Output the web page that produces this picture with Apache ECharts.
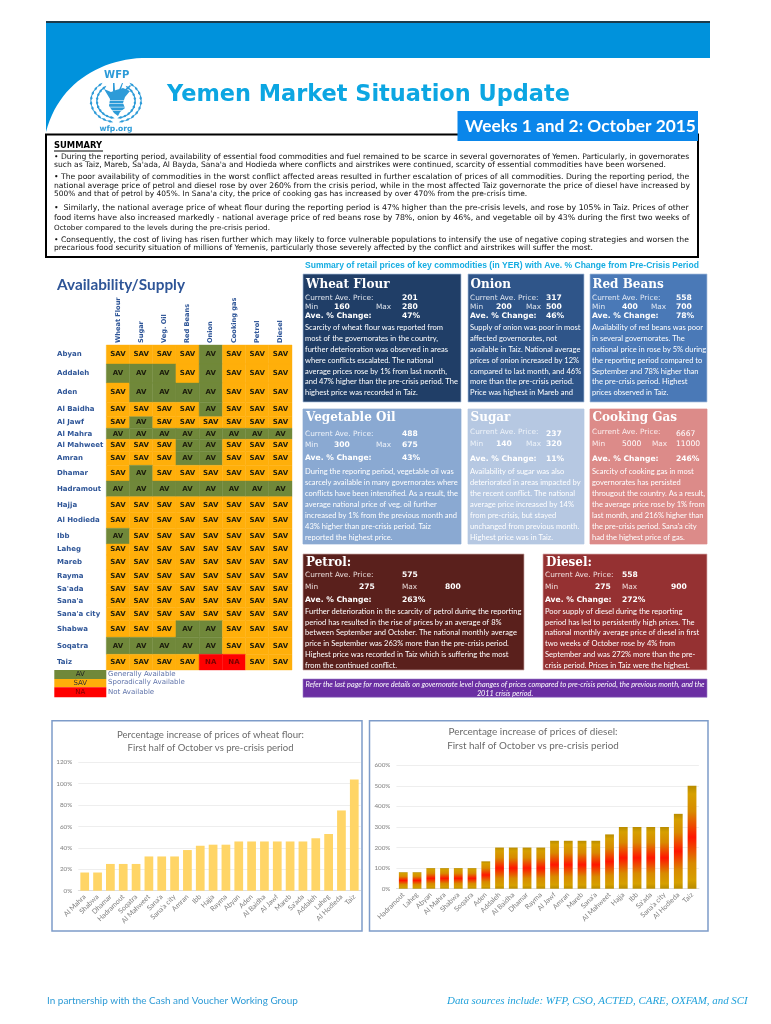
<!DOCTYPE html>
<html><head><meta charset="utf-8">
<style>html,body{margin:0;padding:0;background:#fff}#c{width:771px;height:1024px}</style>
<script src="https://cdn.jsdelivr.net/npm/echarts@6/dist/echarts.min.js"></script>
</head><body><div id="c"></div>
<script>
const commodities=["Wheat Flour","Sugar","Veg. Oil","Red Beans","Onion","Cooking gas","Petrol","Diesel"];
const governorates=["Abyan","Addaleh","Aden","Al Baidha","Al Jawf","Al Mahra","Al Mahweet","Amran","Dhamar","Hadramout","Hajja","Al Hodieda","Ibb","Laheg","Mareb","Rayma","Sa'ada","Sana'a","Sana'a city","Shabwa","Soqatra","Taiz"];
const availability=[
"S S S S A S S S","A A A S A S S S","S A A A A S S S","S S S S A S S S","S A S S S S S S","A A A A A A A A",
"S S S A A S S S","S S S A A S S S","S A S S S S S S","A A A A A A A A","S S S S S S S S","S S S S S S S S",
"A S S S S S S S","S S S S S S S S","S S S S S S S S","S S S S S S S S","S S S S S S S S","S S S S S S S S",
"S S S S S S S S","S S S A A S S S","A A A A A S S S","S S S S N N S S"];
const rowSpans=[19,19,19.3,14.4,11.6,11,12,14,15.7,15.7,16,15.6,15.7,11,15,13.3,11.7,12.3,13.4,16.6,17,15.7];
const wheatCats=["Al Mahra","Shabwa","Dhamar","Hadramout","Soqatra","Al Mahweet","Sana'a","Sana'a city","Amran","Ibb","Hajja","Rayma","Abyan","Aden","Al Baidha","Al Jawf","Mareb","Sa'ada","Addaleh","Laheg","Al Hodieda","Taiz"];
const wheatValues=[17,17,25,25,25,32,32,32,38,42,43,43,46,46,46,46,46,46,49,53,75,104];
const dieselCats=["Hadramout","Laheg","Abyan","Al Mahra","Shabwa","Soqatra","Aden","Addaleh","Al Baidha","Dhamar","Rayma","Al Jawf","Amran","Mareb","Sana'a","Al Mahweet","Hajja","Ibb","Sa'ada","Sana'a city","Al Hodieda","Taiz"];
const dieselValues=[80,80,100,100,100,100,133,200,200,200,200,233,233,233,233,264,300,300,300,300,364,500];
const summaryLines=[
"• During the reporting period, availability of essential food commodities and fuel remained to be scarce in several governorates of Yemen. Particularly, in governorates",
"such as Taiz, Mareb, Sa'ada, Al Bayda, Sana'a and Hodieda where conflicts and airstrikes were continued, scarcity of essential commodities have been worsened.",
"• The poor availability of commodities in the worst conflict affected areas resulted in further escalation of prices of all commodities. During the reporting period, the",
"national average price of petrol and diesel rose by over 260% from the crisis period, while in the most affected Taiz governorate the price of diesel have increased by",
"500% and that of petrol by 405%. In Sana'a city, the price of cooking gas has increased by over 470% from the pre-crisis time.",
"•  Similarly, the national average price of wheat flour during the reporting period is 47% higher than the pre-crisis levels, and rose by 105% in Taiz. Prices of other",
"food items have also increased markedly - national average price of red beans rose by 78%, onion by 46%, and vegetable oil by 43% during the first two weeks of",
"October compared to the levels during the pre-crisis period.",
"• Consequently, the cost of living has risen further which may likely to force vulnerable populations to intensify the use of negative coping strategies and worsen the",
"precarious food security situation of millions of Yemenis, particularly those severely affected by the conflict and airstrikes will suffer the most."];
const wheatText=["Scarcity of wheat flour was reported from","most of the governorates in the country,","further deterioration was observed in areas","where conflicts escalated. The national","average prices rose by 1% from last month,","and 47% higher than the pre-crisis period. The","highest price was recorded in Taiz."];
const onionText=["Supply of onion was poor in most","affected governorates, not","available in Taiz. National average","prices of onion increased by 12%","compared to last month, and 46%","more than the pre-crisis period.","Price was highest in Mareb and"];
const beansText=["Availability of red beans was poor","in several governorates. The","national price in rose by 5% during","the reporting period compared to","September and 78% higher than","the pre-crisis period. Highest","prices observed in Taiz."];
const oilText=["During the reporing period, vegetable oil was","scarcely available in many governorates where","conflicts have been intensified. As a result, the","average national price of veg. oil further","increased by 1% from the previous month and","43% higher than pre-crisis period. Taiz","reported the highest price."];
const sugarText=["Availability of sugar was also","deteriorated in areas impacted by","the recent conflict. The national","average price increased by 14%","from pre-crisis, but stayed","unchanged from previous month.","Highest price was in Taiz."];
const gasText=["Scarcity of cooking gas in most","governorates has persisted","througout the country. As a result,","the average price rose by 1% from","last month, and 216% higher than","the pre-crisis period. Sana'a city","had the highest price of gas."];
const petrolText=["Further deterioration in the scarcity of petrol during the reporting","period has resulted in the rise of prices by an average of 8%","between September and October. The national monthly average","price in September was 263% more than the pre-crisis period.","Highest price was recorded in Taiz which is suffering the most","from the continued conflict."];
const dieselText=["Poor supply of diesel during the reporting","period has led to persistently high prices. The","national monthly average price of diesel in first","two weeks of October rose by 4% from","September and was 272% more than the pre-","crisis period. Prices in Taiz were the highest."];

const BLUE='#2E5597', V='"DejaVu Sans"', L='Lato';
const ctx=document.createElement('canvas').getContext('2d');
function fitSize(s,w,fam,wt){ctx.font=(wt||'normal')+' 100px '+fam;return 100*w/ctx.measureText(s).width;}
const els=[];
function T(s,x,y,size,fill,o){o=o||{};
  els.push({type:'text',z:o.z||5,style:{text:s,x:x,y:y,fill:fill,opacity:o.op==null?1:o.op,align:o.align||'left',verticalAlign:'middle',
  font:(o.it?'italic ':'')+(o.w||'normal')+' '+size.toFixed(2)+'px '+(o.f||V)}});}
function R(x,y,w,h,fill,o){o=o||{};els.push({type:'rect',z:o.z||1,shape:{x:x,y:y,width:w,height:h},style:{fill:fill,stroke:o.stroke||null,lineWidth:o.lw||0}});}
function G(pts,fill,z){els.push({type:'polygon',z:z||3,shape:{points:pts},style:{fill:fill}});}

// header: blue band with a curved lower-left edge
(function(){const pts=[[46,22],[710,22],[710,58],[142,58]];
 const b=[[142,58],[98,60],[58,85],[46,132]];
 for(let i=1;i<=24;i++){const t=i/24,u=1-t;
  pts.push([u*u*u*b[0][0]+3*u*u*t*b[1][0]+3*u*t*t*b[2][0]+t*t*t*b[3][0],u*u*u*b[0][1]+3*u*u*t*b[1][1]+3*u*t*t*b[2][1]+t*t*t*b[3][1]]);}
 G(pts,'#0092DC',1);})();
R(46,21,664,2,'#1C3B4C',{z:2});
T("WFP",116.7,75,10,'#2D9BD8',{w:'bold',align:'center'});
T("wfp.org",116,129,7.6,'#2D9BD8',{w:'bold',align:'center'});
// WFP emblem
(function(){const cx=116,cy=101,c='#2D9BD8';
 [1,-1].forEach(sd=>{[[19,17],[25,21]].forEach(rr=>{for(let a=-50;a<=80;a+=14){const t=a*Math.PI/180,px=cx+sd*rr[0]*Math.cos(t),py=cy+rr[1]*Math.sin(t),
   tx=-Math.sin(t)*sd,ty=Math.cos(t),nx=Math.cos(t)*sd,ny=Math.sin(t);
   const p=(u,v)=>[px+tx*u+nx*v,py+ty*u+ny*v];
   G([p(-3.4,0),p(0,1.2),p(3.4,0),p(0,-1.2)],c);}});});
 G([[104,89],[111,92],[116,90],[123,88],[130,91],[125,97],[123,103],[125,108],[120,112],[118,116],[114,113],[109,106],[110,99]],c);
 G([[118,92],[122,83],[123,83],[120,92]],c);G([[122,92],[130,85],[131,86],[124,93]],c);G([[113,91],[113,83],[114.5,83],[115,91]],c);
 for(let y=100;y<113;y+=3.4)R(108,y,18,0.6,'#fff',{z:4});
})();
const title="Yemen Market Situation Update";
T(title,167,95,fitSize(title,403,V,'bold'),'#0CA6E2',{w:'bold'});
R(46,134.5,652,122.5,'#fff',{stroke:'#000',lw:2,z:2});
R(457.5,111,240.5,30,'#0A86EA',{z:3});
const weeks="Weeks 1 and 2: October 2015";
T(weeks,465,126,fitSize(weeks,231,L,'bold'),'#fff',{w:'bold',f:L});
T("SUMMARY",54,146,8.4,'#000',{w:'bold'});
R(54,150.6,49,0.8,'#000',{z:5});
const sumY=[157,165.5,177,186,194.3,207.7,218,227.7,239.7,248.3];
const sumEnd=[690,667,690,690,528,690,690,270,690,593];
summaryLines.forEach((s,i)=>T(s,54,sumY[i],fitSize(s,sumEnd[i]-54,V),'#111'));

// availability title and legend
T("Availability/Supply",57,285,fitSize("Availability/Supply",128,L,'bold'),BLUE,{w:'bold',f:L});
[['AV',670,679,'#70883A',"Generally Available",'#222'],['SAV',679,687.3,'#FFAF0A',"Sporadically Available",'#333'],['NA',687.3,697.3,'#FF0000',"Not Available",'#7a0000']].forEach(r=>{
  R(54.3,r[1],52,r[2]-r[1],r[3]);
  T(r[0],80.3,(r[1]+r[2])/2,7,r[5],{align:'center'});
  T(r[4],108,(r[1]+r[2])/2-0.5,7,'#5F73AA');
});

// price panels
const sumHead="Summary of retail prices of key commodities (in YER) with Ave. % Change from Pre-Crisis Period";
T(sumHead,305,265.5,fitSize(sumHead,394,'"Liberation Sans"','bold'),'#17ADE2',{w:'bold',f:'"Liberation Sans"'});
function panel(p){
  R(p.x,p.y,p.w,p.h,p.c,{stroke:p.b,lw:0.7});
  T(p.name,p.tx,p.ty,p.ts||12,'#fff',{w:'bold',f:'"DejaVu Serif"'});
  const tc=p.tc||'#fff',lc=p.lc||tc,lx=p.lx;
  T("Current Ave. Price:",lx,p.r[0],7.35,lc);
  T(p.price,p.vx[3],p.r[3]||p.r[0],7.6,tc,{w:p.thin?'normal':'bold'});
  T("Min",lx,p.r[1],7.35,lc);
  T(p.min,p.vx[0],p.r[1],7.6,tc,{w:p.thin?'normal':'bold'});
  T("Max",p.vx[1],p.r[1],7.35,lc);
  T(p.max,p.vx[2],p.r[1],7.6,tc,{w:p.thin?'normal':'bold'});
  T("Ave. % Change:",lx,p.r[2],7.6,'#fff',{w:'bold'});
  T(p.pct,p.vx[3],p.r[2],7.6,'#fff',{w:'bold'});
  p.lines.forEach((s,i)=>T(s,lx,p.by+i*p.bs,p.bf||7.55,tc,{f:L}));
}
const R1=[298.5,307,316.5],R2=[434,445.5,458.5],R2b=[432,444.3,459,434],R3=[575.5,587.5,600];
panel({x:303,y:274,w:158,h:128,c:'#203E67',b:'#A9C0DD',name:"Wheat Flour",tx:306,ty:285,lx:305,r:R1,vx:[334,376,402,402],price:"201",min:"160",max:"280",pct:"47%",lines:wheatText,by:327.5,bs:10.9,lc:'#dfe5ee'});
panel({x:468,y:274,w:116,h:128,c:'#2F5589',b:'#A9C0DD',name:"Onion",tx:470.5,ty:285,lx:470,r:R1,vx:[496,526,546,546],price:"317",min:"200",max:"500",pct:"46%",lines:onionText,by:327.5,bs:10.9,lc:'#dfe5ee'});
panel({x:590,y:274,w:117,h:128,c:'#4A79B7',b:'#A9C0DD',name:"Red Beans",tx:592.5,ty:285,lx:592,r:R1,vx:[622,651,676,676],price:"558",min:"400",max:"700",pct:"78%",lines:beansText,by:327.5,bs:10.9,lc:'#e4ebf5'});
panel({x:303,y:409,w:158,h:135,c:'#8AA9D2',b:'#8AA9D2',name:"Vegetable Oil",tx:306,ty:417.5,lx:305,r:R2,vx:[334,376,402,402],price:"488",min:"300",max:"675",pct:"43%",lines:oilText,by:471.7,bs:10.9,lc:'#edf2f9'});
panel({x:468,y:409,w:116,h:135,c:'#B6C8E2',b:'#B6C8E2',name:"Sugar",tx:470.5,ty:417.5,lx:470,r:R2b,vx:[496,526,546,546],price:"237",min:"140",max:"320",pct:"11%",lines:sugarText,by:471.7,bs:10.9,lc:'#eef3f9'});
panel({x:590,y:409,w:117,h:135,c:'#DC8B89',b:'#DC8B89',name:"Cooking Gas",tx:592.5,ty:417.5,lx:592,r:R2b,vx:[622,652,676,676],thin:true,price:"6667",min:"5000",max:"11000",pct:"246%",lines:gasText,by:471.7,bs:10.9,lc:'#fbeeee'});
panel({x:303,y:554,w:221,h:116,c:'#5A201C',b:'#C9A6A3',name:"Petrol:",tx:306,ty:563,lx:305,r:R3,vx:[359,402,445,402],price:"575",min:"275",max:"800",pct:"263%",lines:petrolText,by:611.3,bs:10.85,lc:'#e8dcda'});
panel({x:543,y:554,w:164,h:116,c:'#953132',b:'#D9B0B0',name:"Diesel:",tx:546,ty:563,lx:545,r:R3,vx:[595,622,671,622],price:"558",min:"275",max:"900",pct:"272%",lines:dieselText,by:611.3,bs:10.85,lc:'#f0dfdf'});
R(303,679,404,18.3,'#6B2FA3',{stroke:'#9A7CC6',lw:0.6});
const refer="Refer the last page for more details on governorate level changes of prices compared to pre-crisis period, the previous month, and the";
const referSize=fitSize(refer,399,L,'italic');
T(refer,505,684.5,referSize,'#fff',{align:'center',it:true,f:L});
T("2011 crisis period.",505,694,referSize,'#fff',{align:'center',it:true,f:L});

// chart frames, titles, footer
R(52,720.7,310,210.3,'transparent',{stroke:'#7E9CC9',lw:1.5});
R(369.5,720.7,338.5,210.3,'transparent',{stroke:'#7E9CC9',lw:1.5});
[["Percentage increase of prices of wheat flour:",735,210.5,187],["First half of October vs pre-crisis period",748.3,210.5,166],["Percentage increase of prices of diesel:",731.7,533,169],["First half of October vs pre-crisis period",746,533,172]].forEach(t=>T(t[0],t[2],t[1],fitSize(t[0],t[3],L),'#6b6b6b',{align:'center',f:L}));
const foot1="In partnership with the Cash and Voucher Working Group",foot2="Data sources include: WFP, CSO, ACTED, CARE, OXFAM, and SCI";
T(foot1,47,1001,fitSize(foot1,251,L),'#2E9BD6',{f:L});
T(foot2,447,1001,fitSize(foot2,301,'"Liberation Serif"','italic'),'#1FA0DA',{f:'"Liberation Serif"',it:true});

// availability cells from the arrays
const rowStart=[0];rowSpans.forEach(h=>rowStart.push(rowStart[rowStart.length-1]+h));
const cellColor={A:'#70883A',S:'#FFAF0A',N:'#FF0000'},cellText={A:'AV',S:'SAV',N:'NA'};
const cells=[];availability.forEach((r,i)=>r.split(' ').forEach((v,j)=>cells.push([j,i])));
function renderCell(params,api){
  const j=api.value(0),i=api.value(1),v=availability[i].split(' ')[j];
  const bw=api.size([1,0])[0],c0=api.coord([j,rowStart[i]]),c1=api.coord([j,rowStart[i+1]]);
  const x=c0[0]-bw/2,y=c0[1],h=c1[1]-c0[1];
  const kids=[{type:'rect',shape:{x:x,y:y,width:bw,height:h},style:{fill:cellColor[v],stroke:cellColor[v],lineWidth:0.4}},
   {type:'text',style:{text:cellText[v],x:c0[0],y:y+h/2,align:'center',verticalAlign:'middle',fill:v==='N'?'#7a0000':'#1b1b0c',font:'bold 7px '+V},z2:5}];
  if(j===0)kids.push({type:'text',style:{text:governorates[i],x:57,y:y+h/2,align:'left',verticalAlign:'middle',fill:BLUE,font:'bold 7px '+V}});
  return {type:'group',children:kids};
}
const axisLab={fontFamily:L,color:'#808080'};
function catAxis(i,data){return {type:'category',gridIndex:i,data:data,axisTick:{show:false},axisLine:{lineStyle:{color:'#D9D9D9',width:.8}},
  axisLabel:Object.assign({interval:0,rotate:45,margin:5,fontSize:7},axisLab)};}
function valAxis(i,max,step){return {type:'value',gridIndex:i,min:0,max:max,interval:step,axisLine:{show:false},axisTick:{show:false},
  splitLine:{lineStyle:{color:'#EAEAEA',width:.8}},axisLabel:Object.assign({formatter:'{value}%',margin:6,fontSize:6.3},axisLab)};}
const chart=echarts.init(document.getElementById('c'),null,{width:771,height:1024});
chart.setOption({
  animation:false,backgroundColor:'#fff',
  graphic:{elements:els},
  grid:[{left:106.3,top:345,width:185.7,height:325},
        {left:78.3,top:762.3,width:282.4,height:128.4},
        {left:396.4,top:765.3,width:302.5,height:123.4}],
  xAxis:[{type:'category',gridIndex:0,position:'top',data:commodities,axisLine:{show:false},axisTick:{show:false},
          axisLabel:{interval:0,rotate:90,margin:2,fontFamily:V,fontWeight:'bold',fontSize:6.6,color:BLUE}},
         catAxis(1,wheatCats),catAxis(2,dieselCats)],
  yAxis:[{type:'value',gridIndex:0,inverse:true,min:0,max:rowStart[rowStart.length-1],show:false},
         valAxis(1,120,20),valAxis(2,600,100)],
  series:[
   {type:'custom',xAxisIndex:0,yAxisIndex:0,data:cells,encode:{x:0,y:1},renderItem:renderCell,z:10},
   {type:'bar',xAxisIndex:1,yAxisIndex:1,data:wheatValues,barWidth:'68%',itemStyle:{color:'#FFD566'},z:10},
   {type:'bar',xAxisIndex:2,yAxisIndex:2,data:dieselValues,barWidth:'64%',z:10,
    itemStyle:{color:new echarts.graphic.LinearGradient(0,0,0,1,[{offset:0,color:'#B88C00'},{offset:.08,color:'#D6A000'},{offset:.25,color:'#D88A00'},{offset:.5,color:'#FF1600'},{offset:.75,color:'#D88A00'},{offset:.92,color:'#D6A000'},{offset:1,color:'#B88C00'}])}}
  ]
});
</script></body></html>
